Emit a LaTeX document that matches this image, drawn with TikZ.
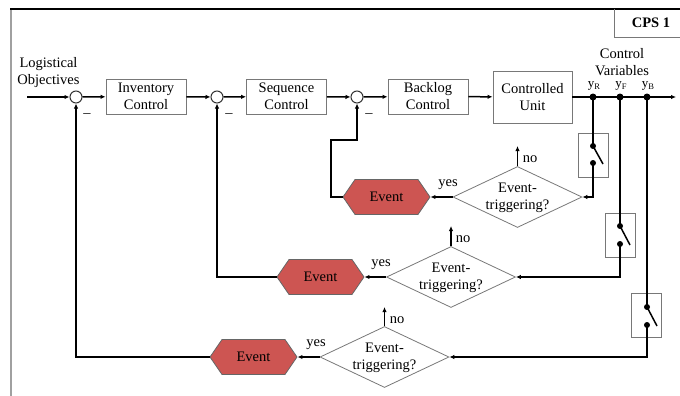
\documentclass[tikz,border=0pt]{standalone}
\usepackage{fontspec}
\setmainfont{Liberation Serif}
\usetikzlibrary{shapes.geometric,shapes.symbols,arrows.meta}
\definecolor{evred}{RGB}{205,85,82}
\definecolor{bgray}{RGB}{120,120,120}
\tikzset{
  blk/.style={draw=bgray,line width=0.9pt,fill=white,minimum width=80pt,minimum height=35pt,inner sep=0pt,align=center,font=\fontsize{14.5}{17}\selectfont},
  sumc/.style={circle,draw=black!80,line width=1pt,fill=white,minimum size=12pt,inner sep=0pt},
  dia/.style={diamond,draw=bgray,line width=0.8pt,fill=white,minimum width=129pt,minimum height=61pt,inner sep=0pt,aspect=2.1},
  evt/.style={signal,signal to=east and west,signal pointer angle=111,draw=black!60,line width=0.8pt,fill=evred,minimum width=87pt,minimum height=35pt,inner sep=0pt,font=\fontsize{14.5}{17}\selectfont},
  sw/.style={draw=bgray,line width=0.8pt,minimum width=30pt,minimum height=44pt,inner sep=0pt},
  dot/.style={circle,fill=black,minimum size=7pt,inner sep=0pt},
  sdot/.style={circle,fill=black,minimum size=6pt,inner sep=0pt},
  con/.style={line width=1.5pt,-{Latex[length=5pt,width=4.5pt]}},
  ln/.style={line width=1.5pt},
  lbl/.style={font=\fontsize{14.5}{16.5}\selectfont,inner sep=0pt,align=center},
  ylbl/.style={font=\fontsize{13}{14}\selectfont,inner sep=0pt},
  dtext/.style={font=\fontsize{14.5}{17}\selectfont,inner sep=0pt,align=center},
}
\begin{document}
\begin{tikzpicture}[x=1pt,y=-1pt]
\useasboundingbox (0,0) rectangle (680,396);
% frame
\draw[bgray!70,line width=2pt] (11,9) -- (11,396);
\draw[black,line width=1.2pt] (10,9) -- (680,9);
\draw[bgray,line width=0.9pt] (614,9) -- (614,37) -- (681,37);
\node[font=\bfseries\fontsize{14.5}{16}\selectfont,inner sep=0pt] (cps) at (651,23) {CPS 1};
% labels
\node[lbl] (lo) at (48.5,72.5) {Logistical\\Objectives};
\node[lbl] (cv) at (622,62) {Control\\Variables};
% main chain
\coordinate (in) at (27,97);
\node[sumc] (s1) at (76,97) {};
\node[blk] (b1) at (146,96.5) {Inventory\\Control};
\node[sumc] (s2) at (217,97) {};
\node[blk] (b2) at (286.5,96.5) {Sequence\\Control};
\node[sumc] (s3) at (357,97) {};
\node[blk] (b3) at (428,96.5) {Backlog\\Control};
\node[blk,minimum width=79pt,minimum height=52pt] (cu) at (532.5,97) {Controlled\\Unit};
\coordinate (out) at (676,97);
\node[dot] (yr) at (593,97) {};
\node[dot] (yf) at (620,97) {};
\node[dot] (yb) at (647,97) {};
\node[ylbl] (lyr) at (594,86) {y\raisebox{-0.35ex}{\fontsize{8.5}{9}\selectfont R}};
\node[ylbl] (lyf) at (621,86) {y\raisebox{-0.35ex}{\fontsize{8.5}{9}\selectfont F}};
\node[ylbl] (lyb) at (648,86) {y\raisebox{-0.35ex}{\fontsize{8.5}{9}\selectfont B}};
\draw[con] (in) -- (s1);
\draw[con] (s1) -- (b1);
\draw[con] (b1) -- (s2);
\draw[con] (s2) -- (b2);
\draw[con] (b2) -- (s3);
\draw[con] (s3) -- (b3);
\draw[con] (b3) -- (cu);
\draw[con] (cu) -- (out);
\node[lbl] (m1) at (87,116) {--};
\node[lbl] (m2) at (229,116) {--};
\node[lbl] (m3) at (369,116) {--};
% switches
\node[sw] (sw1) at (593,155) {};
\node[sw] (sw2) at (620,235) {};
\node[sw] (sw3) at (646.5,315.5) {};
\node[sdot] (a1) at (593,146) {};
\node[sdot] (c1) at (593,163) {};
\node[sdot] (a2) at (620,226) {};
\node[sdot] (c2) at (620,244) {};
\node[sdot] (a3) at (647,307) {};
\node[sdot] (c3) at (647,325) {};
\draw[ln] (a1.center) -- (603,164);
\draw[ln] (a2.center) -- (630,245);
\draw[ln] (a3.center) -- (657,326);
% decisions
\node[dia] (d1) at (517.5,197) {};
\node[dtext] (t1) at (517.5,198) {Event-\\triggering?};
\node[dia] (d2) at (451,277) {};
\node[dtext] (t2) at (451,278) {Event-\\triggering?};
\node[dia] (d3) at (384.5,357) {};
\node[dtext] (t3) at (384.5,358) {Event-\\triggering?};
% events
\node[evt] (e1) at (386.5,197) {Event};
\node[evt] (e2) at (320.5,277) {Event};
\node[evt] (e3) at (253.5,357) {Event};
% yes/no
\coordinate (n1) at (517.5,146);
\coordinate (n2) at (451,226);
\coordinate (n3) at (384.5,307);
\draw[con] (d1.north) -- (n1);
\draw[con] (d2.north) -- (n2);
\draw[con] (d3.north) -- (n3);
\node[lbl] (no1) at (530,159) {no};
\node[lbl] (no2) at (463,239) {no};
\node[lbl] (no3) at (397,320) {no};
\node[lbl] (ye1) at (448,185) {yes};
\node[lbl] (ye2) at (381,265) {yes};
\node[lbl] (ye3) at (316,345) {yes};
\draw[con] (d1.west) -- (e1.east);
\draw[con] (d2.west) -- (e2.east);
\draw[con] (d3.west) -- (e3.east);
% measurement paths
\draw[ln] (yr.center) -- (a1.center);
\draw[con] (c1.center) |- (d1.east);
\draw[ln] (yf.center) -- (a2.center);
\draw[con] (c2.center) |- (d2.east);
\draw[ln] (yb.center) -- (a3.center);
\draw[con] (c3.center) |- (d3.east);
% feedback
\draw[con] (e1.west) -- (331,197) -- (331,140) -- (357,140) -- (s3.south);
\draw[con] (e2.west) -| (s2.south);
\draw[con] (e3.west) -| (s1.south);
\end{tikzpicture}
\end{document}
